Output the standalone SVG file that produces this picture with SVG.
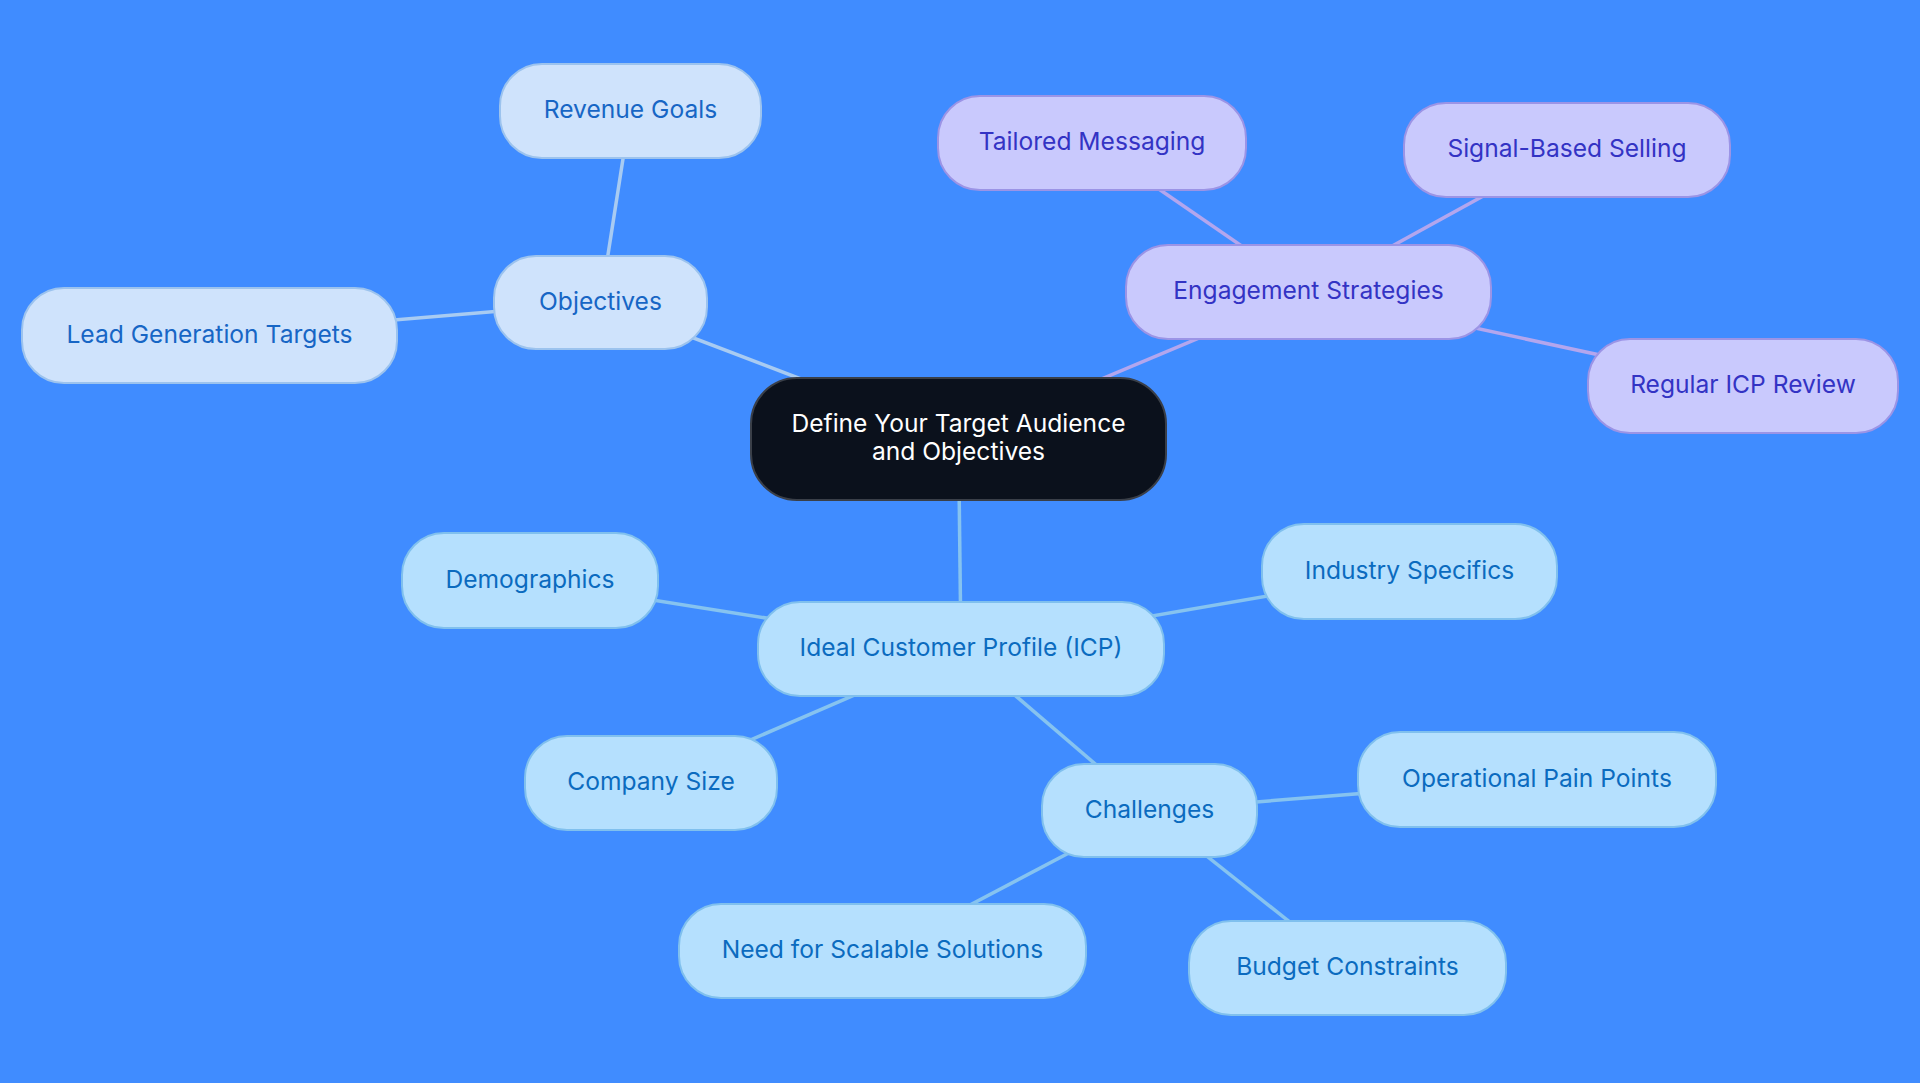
<svg xmlns="http://www.w3.org/2000/svg" width="1920" height="1083" viewBox="0 0 1920 1083">
<style>
text{font-family:Inter,"Noto Sans","Liberation Sans",sans-serif;font-size:24.6px;text-anchor:middle}
.obj rect{fill:#CFE3FC;stroke:#9CC3EE;stroke-width:2}
.obj text{fill:#1766C5}
.pur rect{fill:#C9C9FD;stroke:#9B94E6;stroke-width:2}
.pur text{fill:#3333C4}
.icp rect{fill:#B5E0FE;stroke:#80C0EE;stroke-width:2}
.icp text{fill:#0B6BBF}
.root rect{fill:#0B111C;stroke:#3A3F48;stroke-width:2}
.root text{fill:#FFFFFF}
#edges line{stroke-width:3.5}
.eo{stroke:#A8CBF2}
.ep{stroke:#B3A6EE}
.ei{stroke:#86C3F0}
</style>
<rect x="0" y="0" width="1920" height="1083" fill="#408CFF"/>
<g id="edges">
<line class="eo" x1="958.5" y1="439" x2="600.5" y2="302.5"/>
<line class="eo" x1="600.5" y1="302.5" x2="630.5" y2="111"/>
<line class="eo" x1="600.5" y1="302.5" x2="209.5" y2="335.5"/>
<line class="ep" x1="958.5" y1="439" x2="1308.5" y2="292"/>
<line class="ep" x1="1308.5" y1="292" x2="1092" y2="143"/>
<line class="ep" x1="1308.5" y1="292" x2="1567" y2="150"/>
<line class="ep" x1="1308.5" y1="292" x2="1743" y2="386"/>
<line class="ei" x1="958.5" y1="439" x2="961" y2="649"/>
<line class="ei" x1="961" y1="649" x2="530" y2="580.5"/>
<line class="ei" x1="961" y1="649" x2="651" y2="783"/>
<line class="ei" x1="961" y1="649" x2="1409.5" y2="571.5"/>
<line class="ei" x1="961" y1="649" x2="1149.5" y2="810.5"/>
<line class="ei" x1="1149.5" y1="810.5" x2="1537" y2="779.5"/>
<line class="ei" x1="1149.5" y1="810.5" x2="882.5" y2="951"/>
<line class="ei" x1="1149.5" y1="810.5" x2="1347.5" y2="968"/>
</g>
<g id="root" class="root">
<rect x="751" y="378" width="415" height="122" rx="46"/>
<text x="958.5" y="432">Define Your Target Audience</text>
<text x="958.5" y="460">and Objectives</text>
</g>
<g id="objectives" class="obj">
<rect x="494" y="256" width="213" height="93" rx="42"/>
<text x="600.5" y="310">Objectives</text>
</g>
<g id="revenue-goals" class="obj">
<rect x="500" y="64" width="261" height="94" rx="42"/>
<text x="630.5" y="118">Revenue Goals</text>
</g>
<g id="lead-generation-targets" class="obj">
<rect x="22" y="288" width="375" height="95" rx="42"/>
<text x="209.5" y="343">Lead Generation Targets</text>
</g>
<g id="engagement-strategies" class="pur">
<rect x="1126" y="245" width="365" height="94" rx="42"/>
<text x="1308.5" y="299">Engagement Strategies</text>
</g>
<g id="tailored-messaging" class="pur">
<rect x="938" y="96" width="308" height="94" rx="42"/>
<text x="1092" y="150">Tailored Messaging</text>
</g>
<g id="signal-based-selling" class="pur">
<rect x="1404" y="103" width="326" height="94" rx="42"/>
<text x="1567" y="157">Signal-Based Selling</text>
</g>
<g id="regular-icp-review" class="pur">
<rect x="1588" y="339" width="310" height="94" rx="42"/>
<text x="1743" y="393">Regular ICP Review</text>
</g>
<g id="icp" class="icp">
<rect x="758" y="602" width="406" height="94" rx="42"/>
<text x="961" y="656">Ideal Customer Profile (ICP)</text>
</g>
<g id="demographics" class="icp">
<rect x="402" y="533" width="256" height="95" rx="42"/>
<text x="530" y="588">Demographics</text>
</g>
<g id="company-size" class="icp">
<rect x="525" y="736" width="252" height="94" rx="42"/>
<text x="651" y="790">Company Size</text>
</g>
<g id="industry-specifics" class="icp">
<rect x="1262" y="524" width="295" height="95" rx="42"/>
<text x="1409.5" y="579">Industry Specifics</text>
</g>
<g id="challenges" class="icp">
<rect x="1042" y="764" width="215" height="93" rx="42"/>
<text x="1149.5" y="818">Challenges</text>
</g>
<g id="operational-pain-points" class="icp">
<rect x="1358" y="732" width="358" height="95" rx="42"/>
<text x="1537" y="787">Operational Pain Points</text>
</g>
<g id="need-for-scalable-solutions" class="icp">
<rect x="679" y="904" width="407" height="94" rx="42"/>
<text x="882.5" y="958">Need for Scalable Solutions</text>
</g>
<g id="budget-constraints" class="icp">
<rect x="1189" y="921" width="317" height="94" rx="42"/>
<text x="1347.5" y="975">Budget Constraints</text>
</g>
</svg>
